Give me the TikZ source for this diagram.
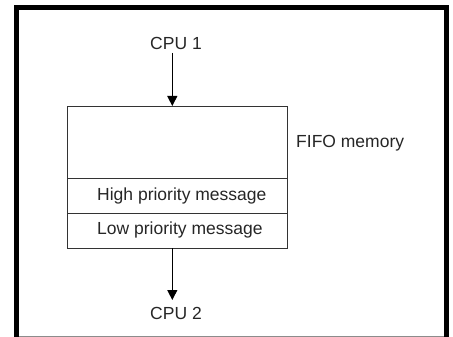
\documentclass[tikz,border=0pt]{standalone}
\usepackage{fontspec}
\setmainfont{Liberation Sans}
\usetikzlibrary{arrows.meta}
\begin{document}
\begin{tikzpicture}[x=1pt,y=-1pt,
  cell/.style={draw=black!80,line width=1.2pt,minimum width=220pt,inner sep=0pt,anchor=north west},
  lbl/.style={text=black!85,font=\fontsize{17.5}{21}\selectfont,inner sep=0pt},
  flow/.style={draw=black,line width=1pt,-{Triangle[width=10pt,length=10pt]}}]
\useasboundingbox (0,0) rectangle (453,337);
% frame
\draw[line width=5pt,line join=miter] (16.5,337) -- (16.5,7.5) -- (446.8,7.5) -- (446.8,337);
\draw[black!45,line width=0.8pt] (19,336.5) -- (444.3,336.5);
% memory cells
\node[cell,minimum height=71.7pt] (mem) at (66.7,106) {};
\node[cell,minimum height=35pt] (hi) at (66.7,177.7) {};
\node[cell,minimum height=35.3pt] (lo) at (66.7,212.7) {};
% labels
\node[lbl,anchor=west] (hitxt) at (97,195.5) {High priority message};
\node[lbl,anchor=west] (lotxt) at (97,230) {Low priority message};
\node[lbl,anchor=west] (fifo) at (296,143.5) {FIFO memory};
\node[lbl] (cpu1) at (176,43) {CPU 1};
\node[lbl] (cpu2) at (176,313.5) {CPU 2};
% connectors
\coordinate (in) at (172.3,106);
\coordinate (out) at (172.3,248);
\draw[flow] (172.3,53) -- (in);
\draw[flow] (out) -- (172.3,300);
\end{tikzpicture}
\end{document}
